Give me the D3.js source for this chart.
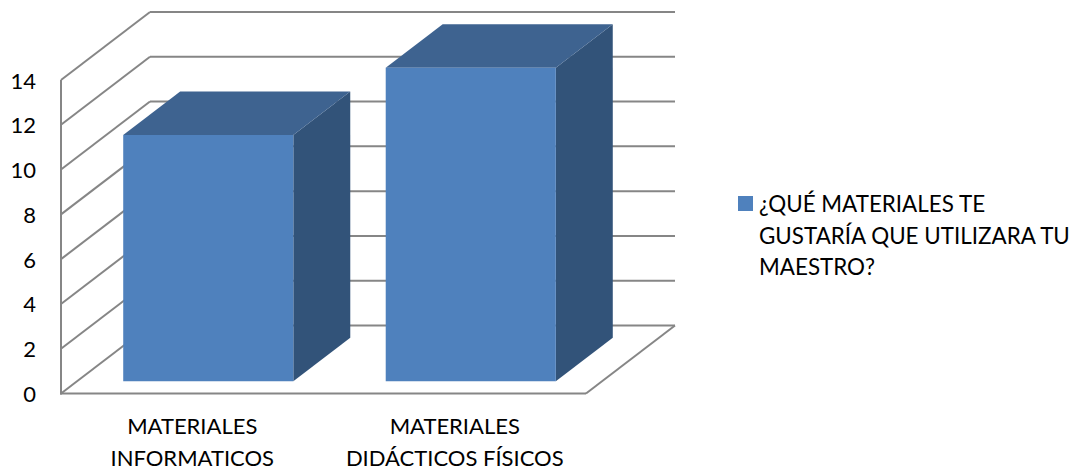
<!DOCTYPE html>
<html><head><meta charset="utf-8">
<script src="https://cdn.jsdelivr.net/npm/d3@7"></script>
<style>html,body{margin:0;padding:0;background:#fff}svg{display:block}text{font-family:Lato,"Open Sans",sans-serif;fill:#000}</style>
</head><body><div id="c"></div>
<script>
const categories = [["MATERIALES","INFORMATICOS"],["MATERIALES","DIDÁCTICOS FÍSICOS"]];
const values = [11, 14];
const yTicks = [0,2,4,6,8,10,12,14];
const legendLines = ["¿QUÉ MATERIALES TE","GUSTARÍA QUE UTILIZARA TU","MAESTRO?"];

const W=1078,H=470;
const svg=d3.select("#c").append("svg").attr("width",W).attr("height",H);
const y=d3.scaleLinear().domain([0,14]).range([393.5,80]);
const x=d3.scaleBand().domain(d3.range(values.length)).range([61,586]).paddingInner(0.352).paddingOuter(0.176);
const depth={x:89,y:-68};
const gridC="#868686";
const line=(x1,y1,x2,y2,w=2)=>svg.append("line").attr("x1",x1).attr("y1",y1).attr("x2",x2).attr("y2",y2).attr("stroke",gridC).attr("stroke-width",w);

// back wall gridlines & side wall diagonals
yTicks.forEach(v=>{
  line(61,y(v),61+depth.x,y(v)+depth.y);
  line(61+depth.x,y(v)+depth.y,586+depth.x,y(v)+depth.y);
});
line(61,y(14),61,y(0)+1,2);
line(60,y(0),586,y(0),2);
line(586,y(0),586+depth.x,y(0)+depth.y);

// bars
const f0=0.18,f1=0.82;
const pt=(px,v,f)=>[px+depth.x*f,y(v)+depth.y*f];
const pathOf=a=>"M"+a.map(p=>p.join(",")).join("L")+"Z";
values.forEach((v,i)=>{
  const l=x(i),r=x(i)+x.bandwidth();
  svg.append("path").attr("d",pathOf([pt(r,0,f0),pt(r,0,f1),pt(r,v,f1),pt(r,v,f0)])).attr("fill","#325379");
  svg.append("path").attr("d",pathOf([pt(l,v,f0),pt(r,v,f0),pt(r,v,f1),pt(l,v,f1)])).attr("fill","#3E6390");
  svg.append("path").attr("d",pathOf([pt(l,0,f0),pt(r,0,f0),pt(r,v,f0),pt(l,v,f0)])).attr("fill","#4F81BD");
  categories[i].forEach((t,k)=>svg.append("text").attr("x",x(i)+x.bandwidth()/2).attr("y",434+k*32).attr("text-anchor","middle").attr("font-size",22).text(t));
});

// y axis labels
yTicks.forEach(v=>svg.append("text").attr("x",36).attr("y",y(v)+8.5).attr("text-anchor","end").attr("font-size",22).text(v));

// legend
svg.append("rect").attr("x",738).attr("y",196).attr("width",15).attr("height",15).attr("fill","#4F81BD");
legendLines.forEach((t,k)=>svg.append("text").attr("x",759).attr("y",212+k*31.5).attr("font-size",22.4).text(t));
</script></body></html>
